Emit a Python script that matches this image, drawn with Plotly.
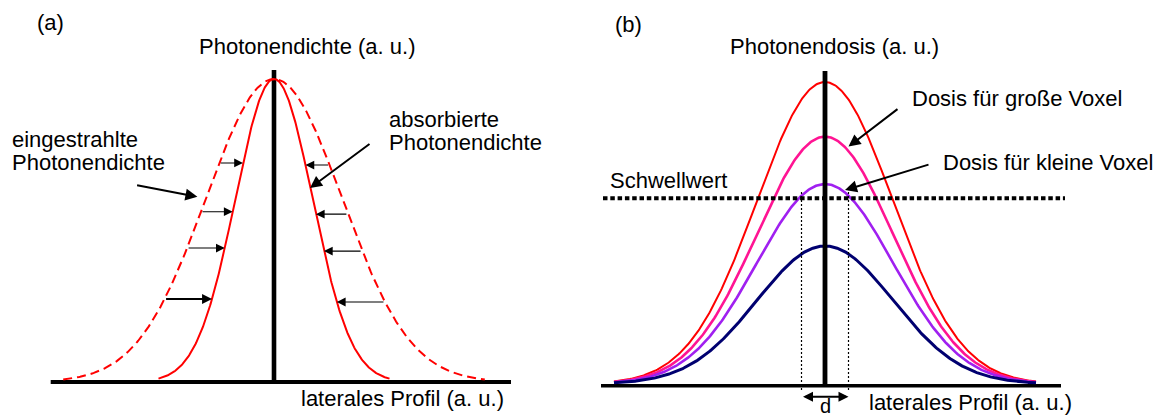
import numpy as np
import plotly.graph_objects as go

# ---------------- DATA ----------------
# Panel (a): lateral profile of photon density (arbitrary units)
a_peak = 1.0
a_sigma_irradiated = 0.68      # dashed: eingestrahlte Photonendichte
a_sigma_absorbed = 0.385       # solid: absorbierte Photonendichte
a_extent_sigmas = [3.1, 3.0]   # curve extent in sigmas (irradiated, absorbed)
a_arrow_levels_left = [0.723, 0.562, 0.442, 0.274]
a_arrow_levels_right = [0.716, 0.554, 0.432, 0.264]
a_arrow_widths_left = [1.1, 1.1, 1.1, 2.0]

# Panel (b): photon dose profiles
b_names = ["Dosis 1", "Dosis für große Voxel", "Dosis für kleine Voxel", "Dosis 4"]
b_peaks = [1.0, 0.819, 0.662, 0.457]
b_sigma = 0.68
b_extent = 2.11
b_colors = ["#ff0000", "#ff1493", "#a020f0", "#000070"]
b_widths = [2.0, 2.6, 2.6, 3.0]
b_threshold = 0.615
b_d_half = 0.235

FONT = "Liberation Sans, Arial, sans-serif"
FS = 22

fig = go.Figure()


def gauss(x, amp, sig):
    return amp * np.exp(-x ** 2 / (2 * sig ** 2))


# ---------- panel (a) ----------
xa_d = np.linspace(-a_extent_sigmas[0] * a_sigma_irradiated, a_extent_sigmas[0] * a_sigma_irradiated, 400)
xa_s = np.linspace(-a_extent_sigmas[1] * a_sigma_absorbed, a_extent_sigmas[1] * a_sigma_absorbed, 400)

# axes (thick black lines)
fig.add_trace(go.Scatter(x=[-2.233, 2.37], y=[0, 0], mode="lines",
                         line=dict(color="black", width=4), xaxis="x", yaxis="y", showlegend=False, hoverinfo="skip"))
fig.add_trace(go.Scatter(x=[0, 0], y=[-0.007, 1.03], mode="lines",
                         line=dict(color="black", width=4.6), xaxis="x", yaxis="y", showlegend=False, hoverinfo="skip"))

fig.add_trace(go.Scatter(x=xa_d, y=gauss(xa_d, a_peak, a_sigma_irradiated), mode="lines",
                         line=dict(color="#ff0000", width=2, dash="9px,5px"),
                         xaxis="x", yaxis="y", name="eingestrahlte Photonendichte", showlegend=False))
fig.add_trace(go.Scatter(x=xa_s, y=gauss(xa_s, a_peak, a_sigma_absorbed), mode="lines",
                         line=dict(color="#ff0000", width=2),
                         xaxis="x", yaxis="y", name="absorbierte Photonendichte", showlegend=False))

ann = []


def txt(x, y, s, xref, yref, xanchor="left", size=FS):
    ann.append(dict(x=x, y=y, text=s, xref=xref, yref=yref, showarrow=False,
                    xanchor=xanchor, yanchor="middle", font=dict(family=FONT, size=size, color="black")))


def arrow(x, y, ax, ay, xref, yref, width, size, side="end"):
    ann.append(dict(x=x, y=y, ax=ax, ay=ay, xref=xref, yref=yref, axref=xref, ayref=yref,
                    showarrow=True, arrowhead=2, arrowsize=size, arrowwidth=width,
                    arrowcolor="black", arrowside=side, text="", standoff=0, startstandoff=0))


# horizontal arrows from irradiated (dashed) to absorbed (solid) curve
for lvl, w in zip(a_arrow_levels_left, a_arrow_widths_left):
    f = np.sqrt(2 * np.log(a_peak / lvl))
    arrow(-a_sigma_absorbed * f, lvl, -a_sigma_irradiated * f, lvl, "x", "y", w, 1.6 if w < 1.5 else 1.0)
for lvl in a_arrow_levels_right:
    f = np.sqrt(2 * np.log(a_peak / lvl))
    arrow(a_sigma_absorbed * f, lvl, a_sigma_irradiated * f, lvl, "x", "y", 1.1, 1.6)

# diagonal label arrows
arrow(-0.766, 0.611, -1.384, 0.650, "x", "y", 2.0, 1.2)
arrow(0.36, 0.640, 0.97, 0.789, "x", "y", 2.0, 1.2)

txt(-2.24, 1.188, "(a)", "x", "y", "center")
txt(0.33, 1.106, "Photonendichte (a. u.)", "x", "y", "center")
txt(-2.64, 0.799, "eingestrahlte", "x", "y")
txt(-2.64, 0.723, "Photonendichte", "x", "y")
txt(1.13, 0.865, "absorbierte", "x", "y")
txt(1.13, 0.789, "Photonendichte", "x", "y")
txt(0.25, -0.055, "laterales Profil (a. u.)", "x", "y")

# ---------- panel (b) ----------
xb = np.linspace(-b_extent, b_extent, 400)
fig.add_trace(go.Scatter(x=[-2.24, 2.36], y=[-0.006, -0.006], mode="lines",
                         line=dict(color="black", width=3.6), xaxis="x2", yaxis="y2", showlegend=False, hoverinfo="skip"))
for name, pk, col, w in zip(b_names, b_peaks, b_colors, b_widths):
    fig.add_trace(go.Scatter(x=xb, y=gauss(xb, pk, b_sigma), mode="lines",
                             line=dict(color=col, width=w), xaxis="x2", yaxis="y2",
                             name=name, showlegend=False))
fig.add_trace(go.Scatter(x=[0, 0], y=[-0.01, 1.036], mode="lines",
                         line=dict(color="black", width=4.8), xaxis="x2", yaxis="y2", showlegend=False, hoverinfo="skip"))
# threshold
fig.add_trace(go.Scatter(x=[-2.22, 2.40], y=[b_threshold, b_threshold], mode="lines",
                         line=dict(color="black", width=4, dash="4.5px,2.8px"),
                         xaxis="x2", yaxis="y2", name="Schwellwert", showlegend=False))
# d markers
for xd in (-b_d_half, b_d_half):
    fig.add_trace(go.Scatter(x=[xd, xd], y=[0.636, -0.02], mode="lines",
                             line=dict(color="black", width=1.2, dash="2px,2px"),
                             xaxis="x2", yaxis="y2", showlegend=False, hoverinfo="skip"))
arrow(b_d_half, -0.042, -b_d_half, -0.042, "x2", "y2", 2.0, 1.0, "end+start")

arrow(0.235, 0.786, 0.74, 0.914, "x2", "y2", 2.0, 1.2)
arrow(0.20, 0.642, 1.05, 0.728, "x2", "y2", 2.0, 1.2)

txt(-1.97, 1.189, "(b)", "x2", "y2", "center")
txt(0.09, 1.116, "Photonendosis (a. u.)", "x2", "y2", "center")
txt(-2.17, 0.675, "Schwellwert", "x2", "y2")
txt(0.85, 0.944, "Dosis für große Voxel", "x2", "y2")
txt(1.16, 0.732, "Dosis für kleine Voxel", "x2", "y2")
txt(0.42, -0.06, "laterales Profil (a. u.)", "x2", "y2")
txt(0.0, -0.074, "d", "x2", "y2", "center", size=20)

hidden = dict(visible=False, showgrid=False, zeroline=False, fixedrange=True)
fig.update_layout(
    width=1160, height=417,
    margin=dict(l=0, r=0, t=0, b=0),
    paper_bgcolor="white", plot_bgcolor="white",
    xaxis=dict(domain=[0, 0.5], range=[-2.74, 3.06], **hidden),
    yaxis=dict(domain=[0, 1], range=[-0.1155, 1.2607], **hidden),
    xaxis2=dict(domain=[0.5, 1], range=[-2.45, 3.35], **hidden),
    yaxis2=dict(domain=[0, 1], range=[-0.1093, 1.2715], anchor="x2", **hidden),
    annotations=ann,
    showlegend=False,
)
fig.write_html("out.html")
